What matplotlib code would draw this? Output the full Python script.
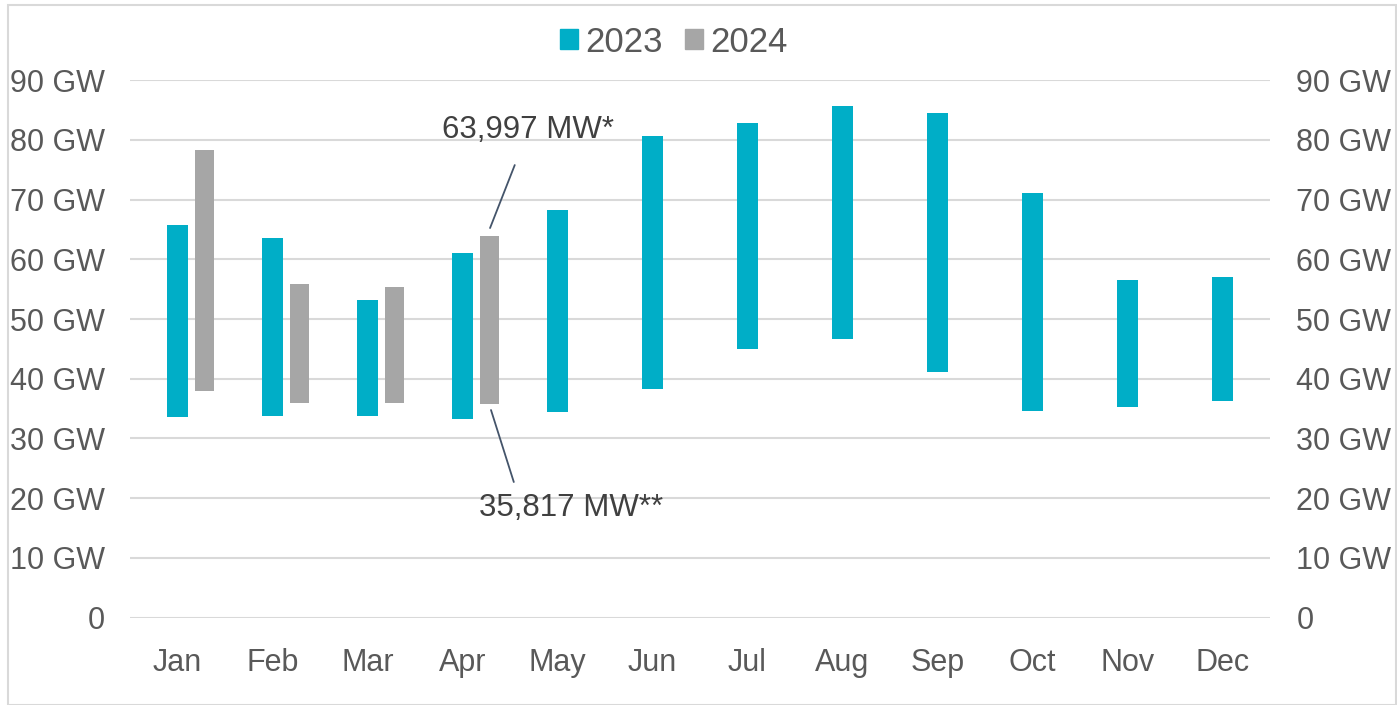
import numpy as np
import matplotlib.pyplot as plt
from matplotlib.patches import Patch, Rectangle

plt.rcParams['font.family'] = ['Liberation Sans', 'DejaVu Sans']

months = ['Jan', 'Feb', 'Mar', 'Apr', 'May', 'Jun', 'Jul', 'Aug', 'Sep', 'Oct', 'Nov', 'Dec']
low_2023 = [33.6, 33.8, 33.8, 33.3, 34.5, 38.2, 45.0, 46.7, 41.2, 34.6, 35.3, 36.3]
high_2023 = [65.7, 63.6, 53.2, 61.0, 68.3, 80.7, 82.8, 85.7, 84.5, 71.1, 56.5, 57.0]
low_2024 = [38.0, 36.0, 36.0, 35.817]
high_2024 = [78.3, 55.9, 55.4, 63.997]
yticks = [0, 10, 20, 30, 40, 50, 60, 70, 80, 90]
ytick_labels = ['0'] + ['%d GW' % v for v in yticks[1:]]

c23 = '#00AEC7'
c24 = '#A6A6A6'
txt = '#595959'

fig = plt.figure(figsize=(13.97, 7.05), dpi=100)
ax = fig.add_axes([130 / 1397, 1 - 617.5 / 705, 1140 / 1397, 537.2 / 705])

x = np.arange(len(months))
ax.bar(x, np.array(high_2023) - np.array(low_2023), bottom=low_2023,
       width=0.22, color=c23, zorder=3)
x24 = np.arange(len(low_2024)) + 0.285
ax.bar(x24, np.array(high_2024) - np.array(low_2024), bottom=low_2024,
       width=0.2, color=c24, zorder=3)

ax.set_xlim(-0.5, 11.5)
ax.set_ylim(0, 90)
ax.set_yticks(yticks)
ax.set_yticklabels(ytick_labels)
ax.set_xticks(x)
ax.set_xticklabels(months)
ax.grid(axis='y', color='#D9D9D9', linewidth=1.5, zorder=0)
for s in ax.spines.values():
    s.set_visible(False)
ax.tick_params(axis='y', length=0, pad=18, labelsize=22, labelcolor=txt)
ax.tick_params(axis='x', length=0, pad=22, labelsize=22, labelcolor=txt)

ax2 = ax.twinx()
ax2.set_ylim(0, 90)
ax2.set_yticks(yticks)
ax2.set_yticklabels(ytick_labels)
for s in ax2.spines.values():
    s.set_visible(False)
ax2.tick_params(axis='y', length=0, pad=19, labelsize=22, labelcolor=txt)

# callouts for april 2024
lc = '#44546A'
ax.annotate('', xy=(3.29, 65.25), xytext=(3.55, 75.8),
            arrowprops=dict(arrowstyle='-', color=lc, lw=1.3, shrinkA=0, shrinkB=0))
ax.text(3.69, 81.7, '63,997 MW*', ha='center', va='center', fontsize=22.5, color='#404040')
ax.annotate('', xy=(3.30, 34.76), xytext=(3.54, 22.7),
            arrowprops=dict(arrowstyle='-', color=lc, lw=1.3, shrinkA=0, shrinkB=0))
ax.text(4.14, 18.3, '35,817 MW**', ha='center', va='center', fontsize=22.5, color='#404040')

handles = [Patch(color=c23, label='2023'), Patch(color=c24, label='2024')]
fig.legend(handles=handles, loc='center', bbox_to_anchor=(674 / 1397, 1 - 42 / 705),
           ncol=2, frameon=False, fontsize=25, labelcolor=txt,
           handlelength=0.52, handleheight=0.52, handletextpad=0.2, columnspacing=0.65)

fig.patches.append(Rectangle((8 / 1397, 0), 1388 / 1397, 700 / 705, transform=fig.transFigure,
                             fill=False, edgecolor='#D9D9D9', linewidth=1.5))

fig.savefig('out.png', dpi=100)
